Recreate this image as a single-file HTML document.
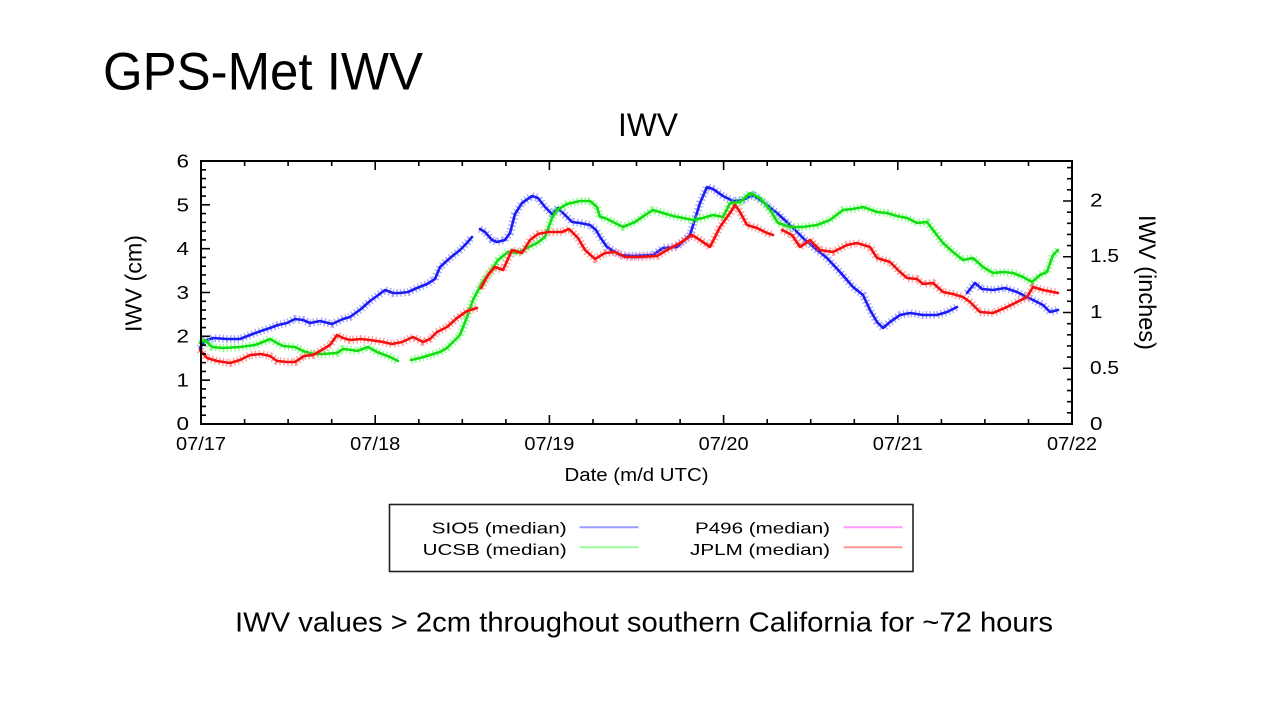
<!DOCTYPE html>
<html>
<head>
<meta charset="utf-8">
<style>
  html, body { margin:0; padding:0; background:#fff; }
  svg { display:block; }
  text { font-family: "Liberation Sans", sans-serif; fill:#000; }
</style>
</head>
<body>
<svg width="1280" height="720" viewBox="0 0 1280 720" xmlns="http://www.w3.org/2000/svg">
  <rect width="1280" height="720" fill="#fff"/>

  <!-- Slide title -->
  <text x="103" y="89.5" font-size="52.5" textLength="320" lengthAdjust="spacingAndGlyphs">GPS-Met IWV</text>
  <!-- Chart title -->
  <text x="618" y="136" font-size="32.5" textLength="60" lengthAdjust="spacingAndGlyphs">IWV</text>

  <!-- Series -->
  <g fill="none" stroke-linejoin="round" stroke-linecap="round">
    <!-- Blue SIO5 -->
    <g stroke="#7070ff" stroke-width="8" stroke-dasharray="1.4 2.4" opacity="0.6" stroke-linecap="butt">
      <polyline points="200,348 205,341 213,338 227,339 240,339 250,335 261,331 270,328 278,325 287,323 295,319 303,320 310,323 320,321 332,324 343,319 350,317 361,309 370,301 377,296 385,290 393,293 400,293 408,292 417,288 427,284 435,279 440,267 450,258 460,250 466,244 472,237"/>
      <polyline points="480,229 485,232 492,240 497,242 505,240 510,233 515,214 522,203 532,196 538,198 545,207 552,214 558,208 565,215 572,222 580,223 590,225 596,230 600,237 607,247 620,255 633,256 653,255 663,248 677,247 690,235 700,203 707,187 713,189 723,196 733,201 743,200 753,195 763,202 777,213 790,225 803,238 817,250 827,258 840,272 853,287 863,295 870,310 877,322 883,328 890,322 900,315 910,313 923,315 937,315 947,312 957,307"/>
      <polyline points="967,293 975,283 982,289 993,290 1005,288 1017,292 1027,297 1037,302 1043,305 1050,312 1058,310"/>
    </g>
    <g stroke="#1c1cf5" stroke-width="2.6">
      <polyline points="200,348 205,341 213,338 227,339 240,339 250,335 261,331 270,328 278,325 287,323 295,319 303,320 310,323 320,321 332,324 343,319 350,317 361,309 370,301 377,296 385,290 393,293 400,293 408,292 417,288 427,284 435,279 440,267 450,258 460,250 466,244 472,237"/>
      <polyline points="480,229 485,232 492,240 497,242 505,240 510,233 515,214 522,203 532,196 538,198 545,207 552,214 558,208 565,215 572,222 580,223 590,225 596,230 600,237 607,247 620,255 633,256 653,255 663,248 677,247 690,235 700,203 707,187 713,189 723,196 733,201 743,200 753,195 763,202 777,213 790,225 803,238 817,250 827,258 840,272 853,287 863,295 870,310 877,322 883,328 890,322 900,315 910,313 923,315 937,315 947,312 957,307"/>
      <polyline points="967,293 975,283 982,289 993,290 1005,288 1017,292 1027,297 1037,302 1043,305 1050,312 1058,310"/>
    </g>

    <!-- Green UCSB -->
    <g stroke="#55ff55" stroke-width="8" stroke-dasharray="1.4 2.4" opacity="0.65" stroke-linecap="butt">
      <polyline points="200,343 205,340 212,347 223,348 240,347 255,345 263,342 270,339 277,343 283,346 295,347 303,351 313,354 323,354 337,353 343,349 352,350 357,351 368,347 377,352 390,357 398,361"/>
      <polyline points="411,360 420,358 430,355 440,352 447,348 453,342 460,335 467,317 473,300 482,283 490,272 498,260 508,252 517,253 527,248 537,243 545,237 552,218 557,210 567,204 580,201 590,201 597,207 600,217 605,218 615,223 623,227 635,222 645,215 653,210 663,213 673,216 683,218 693,220 703,218 713,215 723,217 730,203 740,202 750,193 760,198 770,210 778,223 790,227 803,227 817,225 830,220 843,210 853,209 863,207 877,212 887,213 897,216 907,218 917,223 927,222 933,230 943,243 953,252 963,260 973,258 983,267 993,273 1003,272 1013,273 1023,277 1032,282 1040,275 1047,272 1053,255 1058,250"/>
    </g>
    <g stroke="#10e010" stroke-width="2.6">
      <polyline points="200,343 205,340 212,347 223,348 240,347 255,345 263,342 270,339 277,343 283,346 295,347 303,351 313,354 323,354 337,353 343,349 352,350 357,351 368,347 377,352 390,357 398,361"/>
      <polyline points="411,360 420,358 430,355 440,352 447,348 453,342 460,335 467,317 473,300 482,283 490,272 498,260 508,252 517,253 527,248 537,243 545,237 552,218 557,210 567,204 580,201 590,201 597,207 600,217 605,218 615,223 623,227 635,222 645,215 653,210 663,213 673,216 683,218 693,220 703,218 713,215 723,217 730,203 740,202 750,193 760,198 770,210 778,223 790,227 803,227 817,225 830,220 843,210 853,209 863,207 877,212 887,213 897,216 907,218 917,223 927,222 933,230 943,243 953,252 963,260 973,258 983,267 993,273 1003,272 1013,273 1023,277 1032,282 1040,275 1047,272 1053,255 1058,250"/>
    </g>

    <!-- Red JPLM -->
    <g stroke="#ff6060" stroke-width="8" stroke-dasharray="1.4 2.4" opacity="0.6" stroke-linecap="butt">
      <polyline points="200,350 207,358 217,361 230,363 240,360 250,355 261,354 270,356 277,361 287,362 295,362 304,356 313,355 320,351 330,345 337,335 343,338 350,340 361,339 370,340 383,342 392,344 402,342 413,337 423,342 430,339 437,332 447,327 457,318 467,311 477,308"/>
      <polyline points="481,288 488,275 495,267 503,270 512,250 522,253 530,240 538,234 548,232 562,232 569,229 578,238 585,250 595,259 605,253 615,252 625,257 640,257 657,256 667,250 680,243 692,235 700,240 710,247 720,227 730,213 735,205 740,212 747,225 757,228 767,233 773,235"/>
      <polyline points="782,230 792,235 800,247 810,240 820,250 833,252 847,245 857,243 870,247 877,258 890,262 900,272 907,278 917,279 923,284 933,283 943,292 953,294 963,297 970,302 980,312 993,313 1007,307 1017,302 1027,297 1033,287 1043,290 1058,293"/>
    </g>
    <g stroke="#f51010" stroke-width="2.6">
      <polyline points="200,350 207,358 217,361 230,363 240,360 250,355 261,354 270,356 277,361 287,362 295,362 304,356 313,355 320,351 330,345 337,335 343,338 350,340 361,339 370,340 383,342 392,344 402,342 413,337 423,342 430,339 437,332 447,327 457,318 467,311 477,308"/>
      <polyline points="481,288 488,275 495,267 503,270 512,250 522,253 530,240 538,234 548,232 562,232 569,229 578,238 585,250 595,259 605,253 615,252 625,257 640,257 657,256 667,250 680,243 692,235 700,240 710,247 720,227 730,213 735,205 740,212 747,225 757,228 767,233 773,235"/>
      <polyline points="782,230 792,235 800,247 810,240 820,250 833,252 847,245 857,243 870,247 877,258 890,262 900,272 907,278 917,279 923,284 933,283 943,292 953,294 963,297 970,302 980,312 993,313 1007,307 1017,302 1027,297 1033,287 1043,290 1058,293"/>
    </g>
  </g>

  <!-- Plot frame -->
  <rect x="201" y="161" width="871" height="263" fill="none" stroke="#000" stroke-width="2"/>

  <!-- Ticks -->
  <g stroke="#000" stroke-width="1.6" fill="none">
    <path d="M244.6 424v-5 M288.1 424v-5 M331.7 424v-5 M375.2 424v-9 M418.8 424v-5 M462.3 424v-5 M505.9 424v-5 M549.4 424v-9 M593 424v-5 M636.5 424v-5 M680.1 424v-5 M723.6 424v-9 M767.2 424v-5 M810.7 424v-5 M854.3 424v-5 M897.8 424v-9 M941.4 424v-5 M984.9 424v-5 M1028.5 424v-5"/>
    <path d="M244.6 161v5 M288.1 161v5 M331.7 161v5 M375.2 161v9 M418.8 161v5 M462.3 161v5 M505.9 161v5 M549.4 161v9 M593 161v5 M636.5 161v5 M680.1 161v5 M723.6 161v9 M767.2 161v5 M810.7 161v5 M854.3 161v5 M897.8 161v9 M941.4 161v5 M984.9 161v5 M1028.5 161v5"/>
    <path d="M201 415.23h5 M201 406.47h5 M201 397.7h5 M201 388.93h5 M201 380.17h9 M201 371.4h5 M201 362.63h5 M201 353.87h5 M201 345.1h5 M201 336.33h9 M201 327.57h5 M201 318.8h5 M201 310.03h5 M201 301.27h5 M201 292.5h9 M201 283.73h5 M201 274.97h5 M201 266.2h5 M201 257.43h5 M201 248.67h9 M201 239.9h5 M201 231.13h5 M201 222.37h5 M201 213.6h5 M201 204.83h9 M201 196.07h5 M201 187.3h5 M201 178.53h5 M201 169.77h5"/>
    <path d="M1072 412.85h-5 M1072 401.7h-5 M1072 390.55h-5 M1072 379.4h-5 M1072 368.25h-9 M1072 357.1h-5 M1072 345.95h-5 M1072 334.8h-5 M1072 323.65h-5 M1072 312.5h-9 M1072 301.35h-5 M1072 290.2h-5 M1072 279.05h-5 M1072 267.9h-5 M1072 256.75h-9 M1072 245.6h-5 M1072 234.45h-5 M1072 223.3h-5 M1072 212.15h-5 M1072 201h-9 M1072 189.85h-5 M1072 178.7h-5 M1072 167.55h-5"/>
  </g>

  <!-- Left tick labels -->
  <g font-size="18" text-anchor="end">
    <text x="189" y="430.2" textLength="12.5" lengthAdjust="spacingAndGlyphs">0</text>
    <text x="189" y="386.4" textLength="12.5" lengthAdjust="spacingAndGlyphs">1</text>
    <text x="189" y="342.6" textLength="12.5" lengthAdjust="spacingAndGlyphs">2</text>
    <text x="189" y="298.8" textLength="12.5" lengthAdjust="spacingAndGlyphs">3</text>
    <text x="189" y="255" textLength="12.5" lengthAdjust="spacingAndGlyphs">4</text>
    <text x="189" y="211.3" textLength="12.5" lengthAdjust="spacingAndGlyphs">5</text>
    <text x="189" y="167.5" textLength="12.5" lengthAdjust="spacingAndGlyphs">6</text>
  </g>

  <!-- Right tick labels -->
  <g font-size="18">
    <text x="1090" y="429.8" textLength="12.5" lengthAdjust="spacingAndGlyphs">0</text>
    <text x="1090" y="373.8" textLength="29" lengthAdjust="spacingAndGlyphs">0.5</text>
    <text x="1090" y="317.8" textLength="12.5" lengthAdjust="spacingAndGlyphs">1</text>
    <text x="1090" y="262.2" textLength="29" lengthAdjust="spacingAndGlyphs">1.5</text>
    <text x="1090" y="206.3" textLength="12.5" lengthAdjust="spacingAndGlyphs">2</text>
  </g>

  <!-- X tick labels -->
  <g font-size="18" text-anchor="middle">
    <text x="201" y="450" textLength="50" lengthAdjust="spacingAndGlyphs">07/17</text>
    <text x="375.2" y="450" textLength="50" lengthAdjust="spacingAndGlyphs">07/18</text>
    <text x="549.4" y="450" textLength="50" lengthAdjust="spacingAndGlyphs">07/19</text>
    <text x="723.6" y="450" textLength="50" lengthAdjust="spacingAndGlyphs">07/20</text>
    <text x="897.8" y="450" textLength="50" lengthAdjust="spacingAndGlyphs">07/21</text>
    <text x="1072" y="450" textLength="50" lengthAdjust="spacingAndGlyphs">07/22</text>
  </g>

  <!-- Axis labels -->
  <text x="636.5" y="481" font-size="18" text-anchor="middle" textLength="144" lengthAdjust="spacingAndGlyphs">Date (m/d UTC)</text>
  <text transform="translate(141.5,283.5) rotate(-90)" x="0" y="0" font-size="23" text-anchor="middle" textLength="97" lengthAdjust="spacingAndGlyphs">IWV (cm)</text>
  <text transform="translate(1139,282.5) rotate(90)" x="0" y="0" font-size="24" text-anchor="middle" textLength="135" lengthAdjust="spacingAndGlyphs">IWV (inches)</text>

  <!-- Legend -->
  <rect x="389.5" y="504.5" width="523.5" height="67" fill="#fff" stroke="#222" stroke-width="1.6"/>
  <g font-size="16" text-anchor="end">
    <text x="566.7" y="533.3" textLength="135" lengthAdjust="spacingAndGlyphs">SIO5 (median)</text>
    <text x="566.7" y="555" textLength="144" lengthAdjust="spacingAndGlyphs">UCSB (median)</text>
    <text x="830" y="533.3" textLength="135" lengthAdjust="spacingAndGlyphs">P496 (median)</text>
    <text x="830" y="555" textLength="140" lengthAdjust="spacingAndGlyphs">JPLM (median)</text>
  </g>
  <g stroke-width="2">
    <line x1="579.5" y1="527.3" x2="638.5" y2="527.3" stroke="#9a9aff"/>
    <line x1="579.5" y1="547.3" x2="638.5" y2="547.3" stroke="#9aff9a"/>
    <line x1="843.5" y1="527.3" x2="902.5" y2="527.3" stroke="#ff9aff"/>
    <line x1="843.5" y1="547.3" x2="902.5" y2="547.3" stroke="#ff9a9a"/>
  </g>

  <!-- Caption -->
  <text x="235" y="631.7" font-size="28" textLength="818" lengthAdjust="spacingAndGlyphs">IWV values &gt; 2cm throughout southern California for ~72 hours</text>
</svg>
</body>
</html>
